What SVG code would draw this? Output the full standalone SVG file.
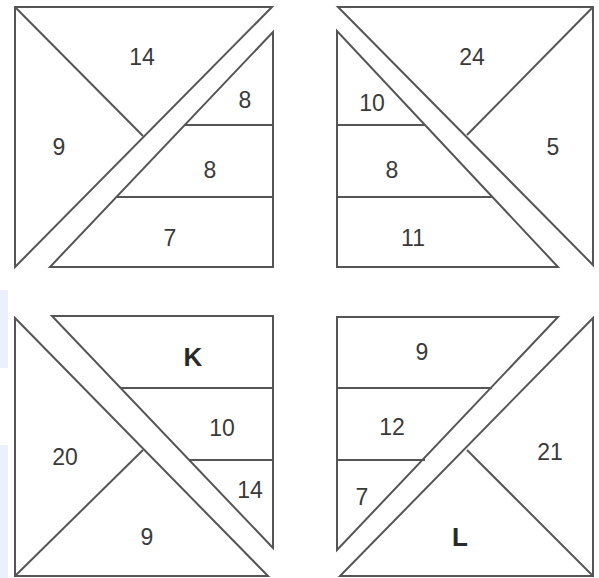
<svg xmlns="http://www.w3.org/2000/svg" width="599" height="578" viewBox="0 0 599 578">
<style>
.s{fill:#fff;stroke:#555;stroke-width:2;stroke-linejoin:miter}
.l{stroke:#555;stroke-width:2;fill:none}
.t{font-family:"Liberation Sans",Arial,sans-serif;font-size:23px;fill:#3a3a3a;text-anchor:middle;dominant-baseline:central}
.b{font-weight:bold;font-size:26px;fill:#2a2a2a}
</style>
<rect width="599" height="578" fill="#fff"/>
<rect x="0" y="290" width="8" height="78" fill="#eaf1fd"/>
<rect x="0" y="445" width="8" height="133" fill="#eaf1fd"/>
<g id="q1">
<polygon class="s" points="15,7 272,7 15,267"/>
<polygon class="s" points="273,32 273,267 50,267"/>
</g>
<g id="q2">
<polygon class="s" points="338,7 593,7 593,265"/>
<polygon class="s" points="337,31 337,267 558,267"/>
</g>
<g id="q3">
<polygon class="s" points="15,318 15,576 268,576"/>
<polygon class="s" points="52,316 273,316 273,548"/>
</g>
<g id="q4">
<polygon class="s" points="337,317 558,317 337,550"/>
<polygon class="s" points="593,318 593,576 340,576"/>
</g>
<g id="connectors">
<line class="l" x1="15" y1="7" x2="143" y2="136"/>
<line class="l" x1="184" y1="125" x2="273" y2="125"/>
<line class="l" x1="117" y1="197" x2="273" y2="197"/>
<line class="l" x1="593" y1="7" x2="467" y2="135"/>
<line class="l" x1="337" y1="125" x2="425" y2="125"/>
<line class="l" x1="337" y1="197" x2="492" y2="197"/>
<line class="l" x1="15" y1="576" x2="143" y2="450"/>
<line class="l" x1="120" y1="388" x2="273" y2="388"/>
<line class="l" x1="189" y1="460" x2="273" y2="460"/>
<line class="l" x1="337" y1="388" x2="492" y2="388"/>
<line class="l" x1="337" y1="460" x2="425" y2="460"/>
<line class="l" x1="593" y1="576" x2="467" y2="450"/>
</g>
<g id="labels">
<text class="t" x="142" y="57">14</text>
<text class="t" x="59" y="147">9</text>
<text class="t" x="245" y="100">8</text>
<text class="t" x="210" y="170">8</text>
<text class="t" x="170" y="238">7</text>
<text class="t" x="472" y="57">24</text>
<text class="t" x="372" y="103">10</text>
<text class="t" x="553" y="147">5</text>
<text class="t" x="392" y="170">8</text>
<text class="t" x="413" y="238">11</text>
<text class="t b" x="193" y="357">K</text>
<text class="t" x="222" y="428">10</text>
<text class="t" x="250" y="490">14</text>
<text class="t" x="65" y="457">20</text>
<text class="t" x="147" y="537">9</text>
<text class="t" x="422" y="352">9</text>
<text class="t" x="392" y="427">12</text>
<text class="t" x="550" y="452">21</text>
<text class="t" x="362" y="497">7</text>
<text class="t b" x="460" y="537">L</text>
</g>
</svg>
